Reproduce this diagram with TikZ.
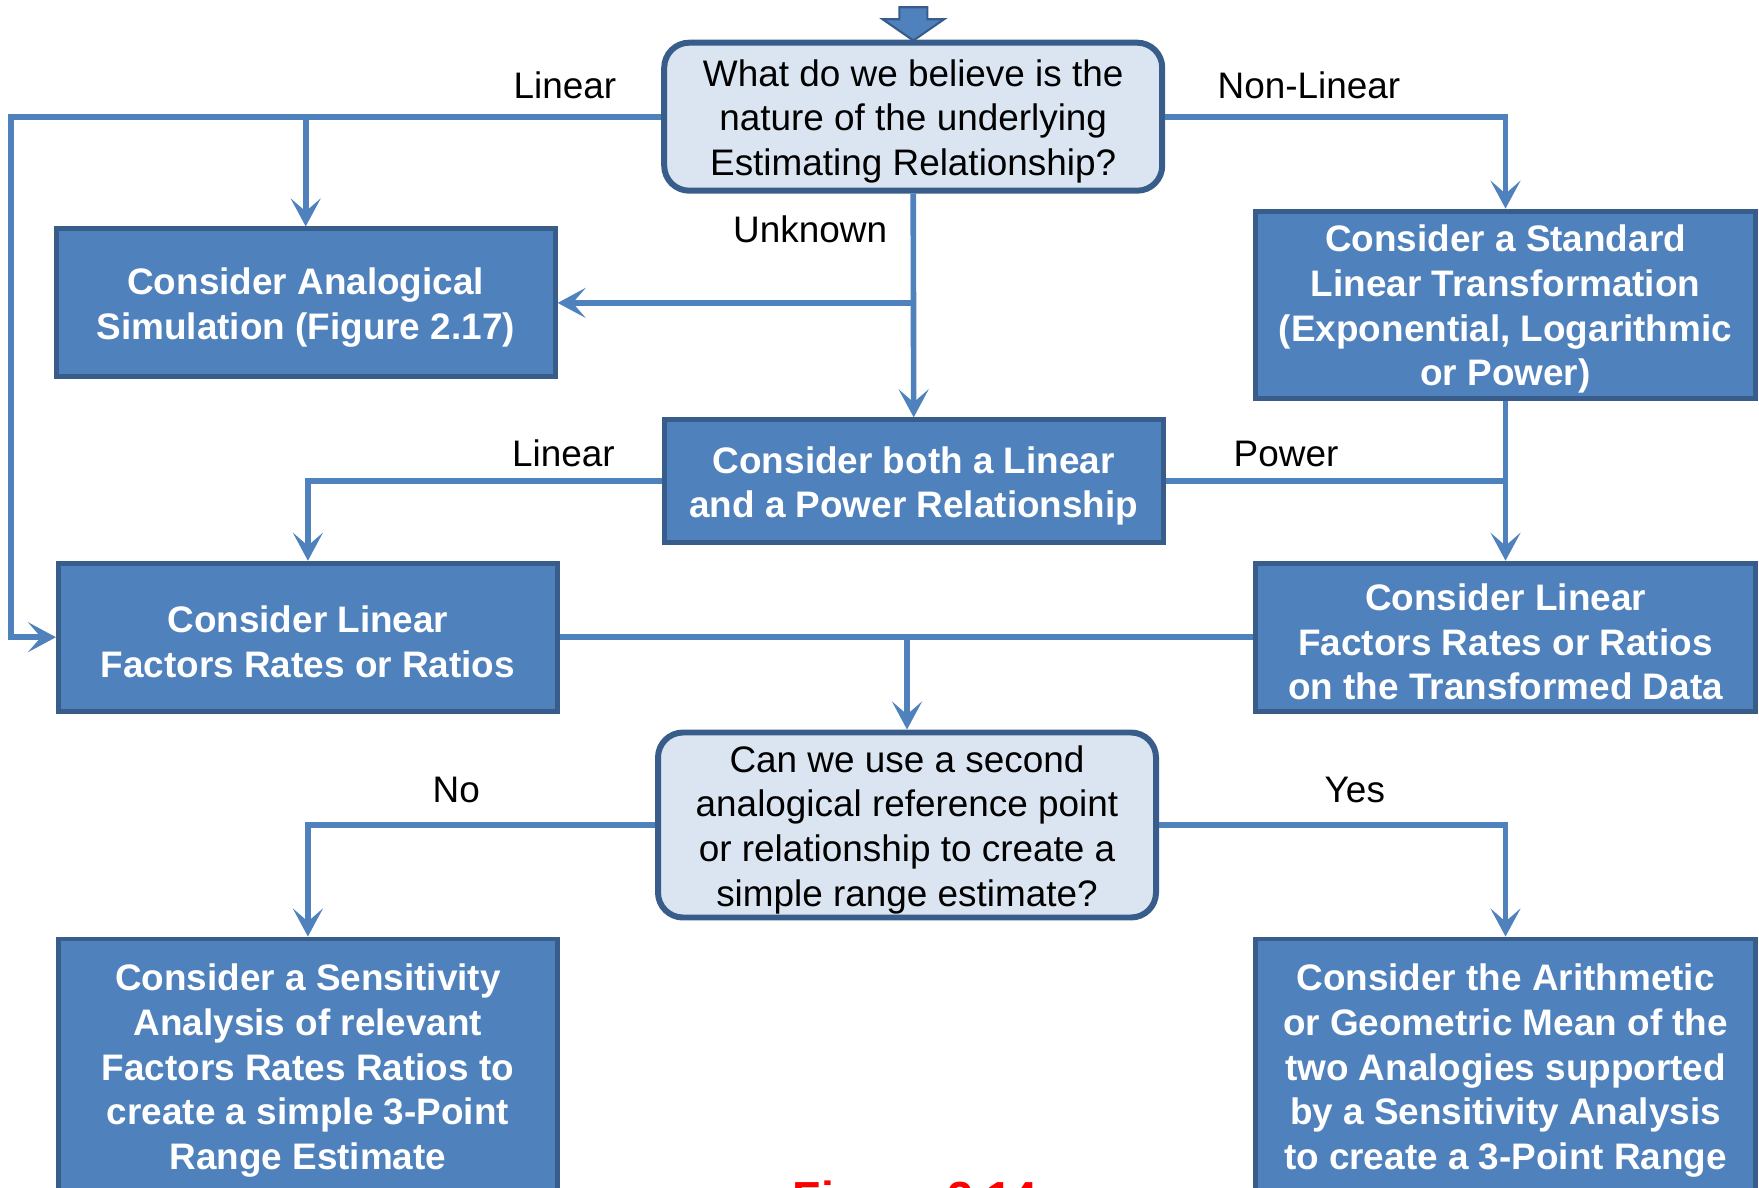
\documentclass[tikz,border=0pt]{standalone}
\usepackage{fontspec}
\setmainfont{Liberation Sans}
\usetikzlibrary{arrows.meta,positioning}
\definecolor{boxblue}{HTML}{4F81BD}
\definecolor{boxedge}{HTML}{385D8A}
\definecolor{qfill}{HTML}{DBE5F1}
\newcommand\toppad{\rule{0pt}{10.3pt}}

\begin{document}
\begin{tikzpicture}[
  stepbox/.style={draw=boxedge, line width=1.4pt, fill=boxblue, text=white,
    font=\fontsize{10.5}{12.7}\selectfont\bfseries, align=center,
    minimum width=4.99cm, inner xsep=2pt, inner ysep=0pt},
  question/.style={draw=boxedge, line width=1.7pt, fill=qfill,
    rounded corners=0.25cm, font=\fontsize{10.5}{12.7}\selectfont,
    align=center, minimum width=4.98cm, inner xsep=2pt, inner ysep=0pt},
  link/.style={draw=boxblue, line width=1.6pt},
  arr/.style={link, -{Stealth[length=0.28cm, width=0.30cm, inset=0.13cm]}},
  lbl/.style={font=\fontsize{10.5}{12.7}\selectfont, anchor=base west, inner sep=0pt}
]
\useasboundingbox (0,0) rectangle (17.59,-11.87);
\clip (0,0) rectangle (17.59,-11.87);

% start arrow
\filldraw[fill=boxblue, draw=boxedge, line width=0.6pt]
  (8.993,-0.073) -- (9.273,-0.073) -- (9.273,-0.193) -- (9.44,-0.193)
  -- (9.133,-0.405) -- (8.827,-0.193) -- (8.993,-0.193) -- cycle;

% boxes
\node[question, minimum height=1.48cm] (q1) at (9.132,-1.167)
  {\toppad What do we believe is the\\ nature of the underlying\\ Estimating Relationship?};
\node[stepbox, minimum height=1.48cm] (analog) at (3.057,-3.029)
  {\toppad Consider Analogical\\ Simulation (Figure 2.17)};
\node[stepbox, minimum height=1.87cm, minimum width=5.0cm] (transf) at (15.055,-3.046)
  {\toppad Consider a Standard\\ Linear Transformation\\ (Exponential, Logarithmic\\ or Power)};
\node[stepbox, minimum height=1.23cm] (both) at (9.137,-4.813)
  {\toppad Consider both a Linear\\ and a Power Relationship};
\node[stepbox, minimum height=1.48cm] (lfrr) at (3.079,-6.372)
  {\toppad Consider Linear\\ Factors Rates or Ratios};
\node[stepbox, minimum height=1.48cm, minimum width=5.0cm] (lfrrt) at (15.055,-6.372)
  {\toppad Consider Linear\\ Factors Rates or Ratios\\ on the Transformed Data};
\node[question, minimum height=1.85cm] (q2) at (9.07,-8.25)
  {\toppad Can we use a second\\ analogical reference point\\ or relationship to create a\\ simple range estimate?};
\node[stepbox, minimum height=2.54cm] (sens) at (3.079,-10.66)
  {\toppad Consider a Sensitivity\\ Analysis of relevant\\ Factors Rates Ratios to\\ create a simple 3-Point\\ Range Estimate};
\node[stepbox, minimum height=2.54cm, minimum width=5.0cm] (mean) at (15.055,-10.66)
  {\toppad Consider the Arithmetic\\ or Geometric Mean of the\\ two Analogies supported\\ by a Sensitivity Analysis\\ to create a 3-Point Range};

\coordinate (lrail) at (0.112,-6.372);

% connectors
\draw[arr] (q1.west) -| (lrail) -- (lfrr.west);
\draw[arr] (q1.west -| analog.north) -- (analog.north);
\draw[arr] (q1.east) -| (transf.north);
\draw[arr] (q1.south) -- (both.north);
\draw[arr] (analog.east -| q1.south) -- (analog.east);
\draw[arr] (both.west) -| (lfrr.north);
\draw[link] (both.east) -| (transf.south);
\draw[arr] (transf.south) -- (lfrrt.north);
\draw[link] (lfrr.east) -- (lfrrt.west);
\draw[arr] (lfrr.east -| q2.north) -- (q2.north);
\draw[arr] (q2.west) -| (sens.north);
\draw[arr] (q2.east) -| (mean.north);

% labels
\node[lbl] (linA) at (5.13,-0.985) {Linear};
\node[lbl] (nonlin) at (12.17,-0.985) {Non-Linear};
\node[lbl] (unk) at (7.325,-2.43) {Unknown};
\node[lbl] (linB) at (5.115,-4.66) {Linear};
\node[lbl] (pow) at (12.33,-4.66) {Power};
\node[lbl] (no) at (4.32,-8.02) {No};
\node[lbl] (yes) at (13.24,-8.02) {Yes};

\node[anchor=base west, inner sep=0pt, text=red,
  font=\fontsize{13.2}{15}\selectfont\bfseries] (cap) at (7.92,-12.14) {Figure 2.14};
\end{tikzpicture}
\end{document}
